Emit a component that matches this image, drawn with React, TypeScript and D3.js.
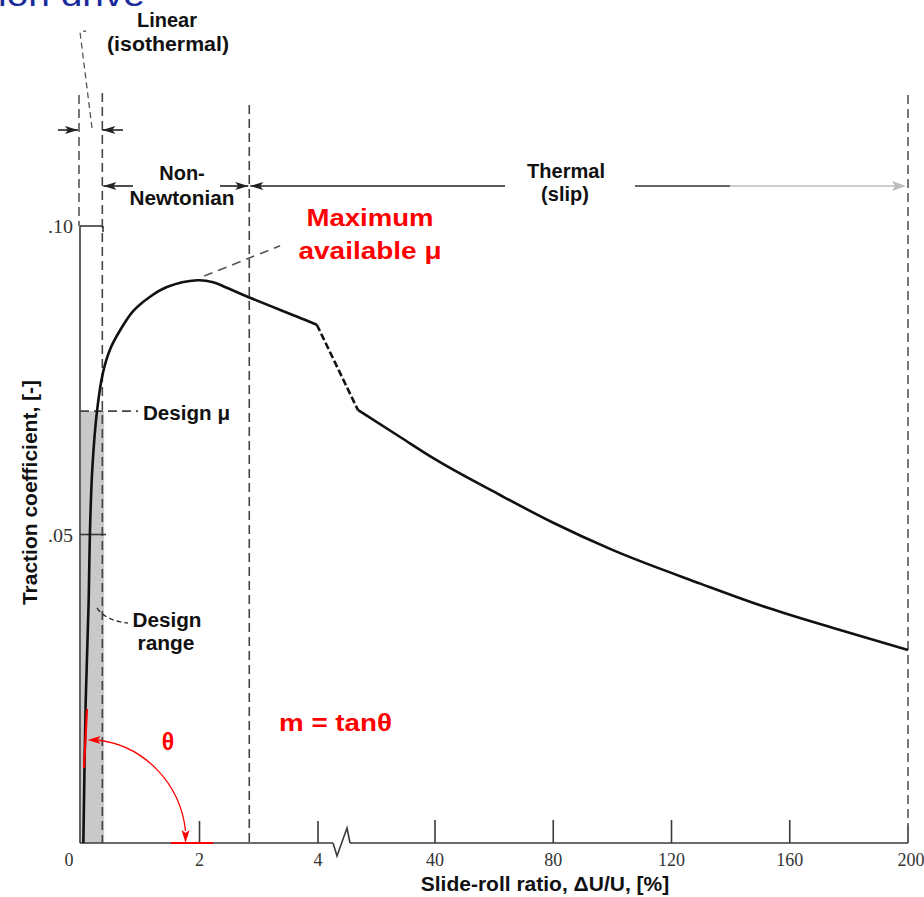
import React from 'react';
import * as d3 from 'd3';

const W = 924;
const H = 897;

// ---- Axis ticks ----
const xTicksLeft = [0, 2, 4];
const xTickLabelsLeft = ['0', '2', '4'];
const xTicksRight = [40, 80, 120, 160, 200];
const xTickLabelsRight = ['40', '80', '120', '160', '200'];
const yTicks = [0.05, 0.1];
const yTickLabels = ['.05', '.10'];

// ---- Traction curve: low-slip part (0–4 % scale) ----
const curveLowSlip = [0.04, 0.08, 0.13, 0.15, 0.19, 0.27, 0.37, 0.49, 0.66, 0.88, 1.16, 1.45, 1.96, 2.23, 2.46, 2.82, 3.7, 3.98];
const curveLowMu = [0, 0.0232, 0.0394, 0.05, 0.0605, 0.07, 0.0762, 0.08, 0.0831, 0.0862, 0.0885, 0.0901, 0.0912, 0.0909, 0.09, 0.0885, 0.0851, 0.084];

// ---- Traction curve: high-slip part (40–200 % scale) ----
const curveHighSlip = [13.9, 28.2, 40, 62, 80, 100, 130, 152, 175, 200];
const curveHighMu = [0.0702, 0.0658, 0.0622, 0.0564, 0.0519, 0.0475, 0.042, 0.0382, 0.0348, 0.0313];

// ---- "Maximum available μ" leader ----
const maxLeaderSlip = [2.08, 2.84, 3.36];
const maxLeaderMu = [0.0919, 0.0948, 0.0968];

// ---- Regimes / design ----
const zoneLinearStart = 0;
const zoneLinearEnd = 0.36;
const zoneNonNewtEnd = 2.84;
const zoneThermalEnd = 200;
const designMu = 0.07;
const designRangeEnd = 0.39;

const SANS = "'Liberation Sans', Arial, Helvetica, sans-serif";
const SERIF = "'Liberation Serif', 'DejaVu Serif', serif";

const xL = d3.scaleLinear().domain([0, 4]).range([81, 318]);
const xR = d3.scaleLinear().domain([40, 200]).range([435, 908]);
const y = d3.scaleLinear().domain([0, 0.1]).range([843, 226]);

function arrow(tx: number, ty: number, dir: 'left' | 'right' | 'down', len = 12, hw = 4) {
  if (dir === 'right') return `M${tx},${ty} L${tx - len},${ty - hw} L${tx - len + 3},${ty} L${tx - len},${ty + hw} Z`;
  if (dir === 'left') return `M${tx},${ty} L${tx + len},${ty - hw} L${tx + len - 3},${ty} L${tx + len},${ty + hw} Z`;
  return `M${tx},${ty} L${tx - hw},${ty - len} L${tx},${ty - len + 3} L${tx + hw},${ty - len} Z`;
}

function T(props: any) {
  const { x, y: yy, children, size = 20, fill = '#111', anchor = 'middle', w, weight = 'bold', family = SANS, transform } = props;
  return (
    <text
      x={x}
      y={yy}
      fontSize={size}
      fontWeight={weight}
      fontFamily={family}
      fill={fill}
      textAnchor={anchor}
      textLength={w}
      lengthAdjust={w ? 'spacingAndGlyphs' : undefined}
      transform={transform}
    >
      {children}
    </text>
  );
}

export default function App() {
  const lowPts: [number, number][] = curveLowSlip.map((s, i) => [xL(s), y(curveLowMu[i])]);
  const highPts: [number, number][] = curveHighSlip.map((s, i) => [xR(s), y(curveHighMu[i])]);
  const leaderPts: [number, number][] = maxLeaderSlip.map((s, i) => [xL(s), y(maxLeaderMu[i])]);
  const lineLow = d3.line().curve(d3.curveCatmullRom.alpha(0.5));
  const lineHigh = d3.line().curve(d3.curveMonotoneX);

  const y0 = y(0);
  const yTop = y(0.1);
  const xA = xL(zoneLinearStart) - 1;
  const xLin = xL(zoneLinearEnd);
  const xNN = xL(zoneNonNewtEnd);
  const xTh = xR(zoneThermalEnd);
  const yDes = y(designMu);
  const lastLow = lowPts[lowPts.length - 1];
  const firstHigh = highPts[0];

  // theta arc
  const cx = xL(0.06);
  const arcR = 100;
  const arcStart: [number, number] = [cx + 3, y0 - 103];
  const arcEnd: [number, number] = [cx + arcR + 1, y0 - 12];

  const dash = '9 5';
  const axisCol = '#3a3a3a';
  const red = '#ff0000';

  const breakX = 333;

  return (
    <svg width={W} height={H} style={{ position: 'absolute', left: 0, top: 0, background: '#fff' }}>
      <rect x={0} y={0} width={W} height={H} fill="#fff" />

      {/* clipped title fragment (cut off at the top in the reference) */}
      <T x={-2} y={6} size={34} weight="normal" fill="#1a2a9a" anchor="start" w={147}>ion drive</T>

      {/* design range band */}
      <rect x={xL(0)} y={yDes} width={xL(designRangeEnd) - xL(0)} height={y0 - yDes} fill="#c9c9c9" />

      {/* regime boundary dashed lines */}
      <line x1={xA - 1} x2={xA - 1} y1={95} y2={yTop} stroke="#555" strokeWidth={1.6} strokeDasharray={dash} />
      <line x1={xLin} x2={xLin} y1={93} y2={y0} stroke="#444" strokeWidth={1.6} strokeDasharray={dash} />
      <line x1={xNN} x2={xNN} y1={105} y2={y0} stroke="#444" strokeWidth={1.6} strokeDasharray={dash} />
      <line x1={xTh} x2={xTh} y1={95} y2={y0 - 18} stroke="#555" strokeWidth={1.6} strokeDasharray={dash} />
      <line x1={xTh} x2={xTh} y1={y0 - 18} y2={y0} stroke={axisCol} strokeWidth={1.6} />

      {/* Y axis */}
      <line x1={xA} x2={xA} y1={yTop} y2={y0} stroke={axisCol} strokeWidth={1.6} />
      {yTicks.map((t, i) => (
        <g key={t}>
          <line x1={xA} x2={xA + (i === 0 ? 26 : 23)} y1={y(t)} y2={y(t)} stroke={axisCol} strokeWidth={1.6} />
          <T x={73} y={y(t) + 7} size={19} weight="normal" family={SERIF} fill="#333" anchor="end" w={25}>{yTickLabels[i]}</T>
        </g>
      ))}
      <line x1={xA + 23} x2={xA + 23} y1={yTop} y2={yTop + 6} stroke={axisCol} strokeWidth={1.6} />

      {/* X axis with break */}
      <line x1={xA} x2={breakX} y1={y0} y2={y0} stroke={axisCol} strokeWidth={1.6} />
      <path d={`M${breakX},${y0} L${breakX + 4},${y0 + 13} L${breakX + 14},${y0 - 15} L${breakX + 17},${y0}`} fill="none" stroke={axisCol} strokeWidth={1.6} />
      <line x1={breakX + 17} x2={xTh} y1={y0} y2={y0} stroke={axisCol} strokeWidth={1.6} />
      {xTicksLeft.map((t, i) => (
        <g key={'l' + t}>
          {t > 0 && <line x1={xL(t)} x2={xL(t)} y1={y0} y2={y0 - 22} stroke={axisCol} strokeWidth={1.6} />}
          <T x={xL(t) + (t === 0 ? -12 : 0)} y={866} size={18} weight="normal" family={SERIF} fill="#333">{xTickLabelsLeft[i]}</T>
        </g>
      ))}
      {xTicksRight.map((t, i) => (
        <g key={'r' + t}>
          {t < 200 && <line x1={xR(t)} x2={xR(t)} y1={y0} y2={y0 - 23} stroke={axisCol} strokeWidth={1.6} />}
          <T x={xR(t) + (t === 200 ? 3 : 0)} y={866} size={18} weight="normal" family={SERIF} fill="#333">{xTickLabelsRight[i]}</T>
        </g>
      ))}

      {/* design mu dashed */}
      <line x1={xA} x2={138} y1={yDes} y2={yDes} stroke="#444" strokeWidth={1.6} strokeDasharray="9 5" />

      {/* traction curve */}
      <path d={lineLow(lowPts) || ''} fill="none" stroke="#111" strokeWidth={2.6} />
      <path d={`M${lastLow[0]},${lastLow[1]} L${firstHigh[0]},${firstHigh[1]}`} fill="none" stroke="#111" strokeWidth={2.6} strokeDasharray="7 3" />
      <path d={lineHigh(highPts) || ''} fill="none" stroke="#111" strokeWidth={2.6} />

      {/* max available leader */}
      <path d={lineLow(leaderPts) || ''} fill="none" stroke="#555" strokeWidth={1.6} strokeDasharray="9 6" />

      {/* row 1 arrows (Linear) */}
      <line x1={58} x2={xA - 2} y1={130} y2={130} stroke="#222" strokeWidth={1.6} />
      <path d={arrow(xA - 2, 130, 'right', 13, 4)} fill="#222" />
      <line x1={xLin} x2={123} y1={130} y2={130} stroke="#222" strokeWidth={1.6} />
      <path d={arrow(xLin, 130, 'left', 13, 4)} fill="#222" />
      <path d="M92,128 L80,32 L86,31" fill="none" stroke="#555" strokeWidth={1.3} strokeDasharray="6 4" />

      {/* row 2 arrows */}
      <line x1={xLin + 1} x2={133} y1={186} y2={186} stroke="#222" strokeWidth={1.6} />
      <path d={arrow(xLin + 1, 186, 'left', 13, 4)} fill="#222" />
      <line x1={220} x2={xNN - 1} y1={186} y2={186} stroke="#222" strokeWidth={1.6} />
      <path d={arrow(xNN - 1, 186, 'right', 13, 4)} fill="#222" />
      <line x1={xNN + 1} x2={505} y1={186} y2={186} stroke="#222" strokeWidth={1.6} />
      <path d={arrow(xNN + 1, 186, 'left', 13, 4)} fill="#222" />
      <line x1={635} x2={730} y1={186} y2={186} stroke="#333" strokeWidth={1.6} />
      <line x1={730} x2={xTh - 4} y1={186} y2={186} stroke="#bdbdbd" strokeWidth={1.6} />
      <path d={arrow(xTh - 2, 186, 'right', 14, 5)} fill="#bdbdbd" />

      {/* regime labels */}
      <T x={167} y={27}>Linear</T>
      <T x={168} y={51} w={122}>(isothermal)</T>
      <T x={182} y={180}>Non-</T>
      <T x={182} y={205} w={105}>Newtonian</T>
      <T x={566} y={178} w={78}>Thermal</T>
      <T x={565} y={201}>(slip)</T>

      {/* design labels */}
      <T x={143} y={420} anchor="start" w={87}>Design μ</T>
      <path d="M97,608 Q106,621 128,623" fill="none" stroke="#333" strokeWidth={1.4} strokeDasharray="5 3" />
      <T x={167} y={627} w={69}>Design</T>
      <T x={166} y={650} w={57}>range</T>

      {/* red annotations */}
      <T x={370} y={226} size={24} fill={red} w={127}>Maximum</T>
      <T x={370} y={259} size={24} fill={red} w={143}>available μ</T>
      <T x={279} y={731} size={24} fill={red} anchor="start" w={113}>m = tanθ</T>
      <T x={168} y={750} size={23} fill={red}>θ</T>

      <line x1={87} x2={84} y1={709} y2={768} stroke={red} strokeWidth={2.2} />
      <line x1={171} x2={213} y1={y0} y2={y0} stroke={red} strokeWidth={2} />
      <path d={`M${arcStart[0] + 10},${arcStart[1]} A${arcR} ${arcR + 3} 0 0 1 ${arcEnd[0]},${arcEnd[1]}`} fill="none" stroke={red} strokeWidth={1.3} />
      <path d={arrow(arcStart[0], arcStart[1], 'left', 13, 4)} fill={red} />
      <path d={arrow(arcEnd[0], y0, 'down', 13, 4)} fill={red} />

      {/* axis titles */}
      <T x={545} y={891} size={21}>Slide-roll ratio, ΔU/U, [%]</T>
      <T x={0} y={0} size={21} transform={`translate(37,${(377 + 608) / 2}) rotate(-90)`}>Traction coefficient, [-]</T>
    </svg>
  );
}
